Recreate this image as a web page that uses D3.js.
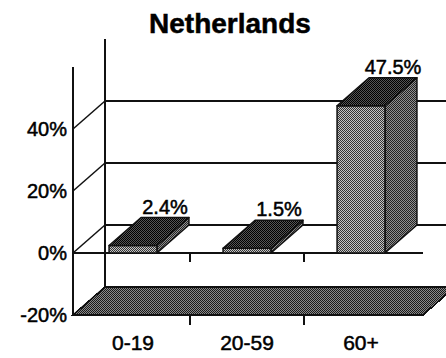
<!DOCTYPE html>
<html>
<head>
<meta charset="utf-8">
<script src="https://cdn.jsdelivr.net/npm/d3@7"></script>
<style>
  html, body { margin: 0; padding: 0; background: #fff; }
  svg { display: block; }
  text { font-family: "Liberation Sans", Arial, Helvetica, sans-serif; fill: #000; stroke: #000; stroke-width: 0.5px; }
</style>
</head>
<body>
<svg id="chart" width="446" height="358"></svg>
<script>
// Population change by age group
const title = "Netherlands";
const categories = ["0-19", "20-59", "60+"];
const values = [2.4, 1.5, 47.5];
const valueLabels = ["2.4%", "1.5%", "47.5%"];
const yTicks = [-20, 0, 20, 40];
const yTickLabels = ["-20%", "0%", "20%", "40%"];
const yDomain = [-20, 60];

const svg = d3.select("#chart");

// 3D box geometry
const front = { left: 73, right: 423 };
const depth = { dx: 32, dy: -28 };

const y = d3.scaleLinear().domain(yDomain).range([315, 67]);
const x = d3.scaleBand().domain(categories)
  .range([76, 418]).paddingInner(0.58).paddingOuter(0.29);

// Halftone-like fills
const defs = svg.append("defs");
function halftone(id, bg, dot) {
  const p = defs.append("pattern").attr("id", id)
    .attr("width", 2).attr("height", 2).attr("patternUnits", "userSpaceOnUse");
  p.append("rect").attr("width", 2).attr("height", 2).attr("fill", bg);
  p.append("rect").attr("x", 0).attr("y", 0).attr("width", 1).attr("height", 1).attr("fill", dot);
  p.append("rect").attr("x", 1).attr("y", 1).attr("width", 1).attr("height", 1).attr("fill", dot);
}
halftone("floorFill", "#8a8a8a", "#1a1a1a");
halftone("frontFill", "#c4c4c4", "#333");
halftone("sideFill", "#909090", "#222");
halftone("topFill", "#555", "#000");

const line = d3.line();
const g = svg.append("g").attr("shape-rendering", "crispEdges");

// Floor at the bottom of the value axis
const yf = y(yDomain[0]);
g.append("path")
  .attr("d", line([[front.left, yf], [front.right, yf],
                   [front.right + depth.dx, yf + depth.dy], [front.left + depth.dx, yf + depth.dy]]) + "Z")
  .attr("fill", "url(#floorFill)").attr("stroke", "#111").attr("stroke-width", 1.5);

// Back wall gridlines
yTicks.filter(v => v > yDomain[0]).forEach(v => {
  g.append("line")
    .attr("x1", front.left + depth.dx).attr("x2", front.right + depth.dx + 10)
    .attr("y1", y(v) + depth.dy).attr("y2", y(v) + depth.dy)
    .attr("stroke", "#111").attr("stroke-width", 1.5);
});

// Back wall left edge
g.append("line")
  .attr("x1", front.left + depth.dx).attr("x2", front.left + depth.dx)
  .attr("y1", y(yDomain[1]) + depth.dy).attr("y2", yf + depth.dy)
  .attr("stroke", "#111").attr("stroke-width", 2);

// Side wall diagonals
yTicks.forEach(v => {
  svg.append("line")
    .attr("x1", front.left).attr("y1", y(v))
    .attr("x2", front.left + depth.dx).attr("y2", y(v) + depth.dy)
    .attr("stroke", "#111").attr("stroke-width", 1.5);
});

// Front value axis
g.append("line")
  .attr("x1", front.left).attr("x2", front.left)
  .attr("y1", y(yDomain[1])).attr("y2", yf)
  .attr("stroke", "#111").attr("stroke-width", 1.5);

// Zero baseline at the front
g.append("line")
  .attr("x1", front.left).attr("x2", front.right)
  .attr("y1", y(0)).attr("y2", y(0))
  .attr("stroke", "#111").attr("stroke-width", 2);

// Category separators
const step = x.step();
categories.slice(1).forEach(c => {
  const bx = x(c) - (step * x.paddingInner()) / 2;
  [[y(0), y(0) + 9], [yf, yf + 10]].forEach(([a, b]) => {
    g.append("line").attr("x1", bx).attr("x2", bx).attr("y1", a).attr("y2", b)
      .attr("stroke", "#111").attr("stroke-width", 2);
  });
});

// Bars
const bars = svg.append("g").attr("stroke", "#111").attr("stroke-width", 1.5)
  .attr("stroke-linejoin", "round");
categories.forEach((c, i) => {
  const x0 = x(c), x1 = x(c) + x.bandwidth();
  const yt = y(values[i]), yb = y(0);
  const { dx, dy } = depth;
  bars.append("path")
    .attr("d", line([[x1, yt], [x1 + dx, yt + dy], [x1 + dx, yb + dy], [x1, yb]]) + "Z")
    .attr("fill", "url(#sideFill)");
  bars.append("rect")
    .attr("x", x0).attr("y", yt).attr("width", x1 - x0).attr("height", yb - yt)
    .attr("fill", "url(#frontFill)");
  bars.append("path")
    .attr("d", line([[x0, yt], [x0 + dx, yt + dy], [x1 + dx, yt + dy], [x1, yt]]) + "Z")
    .attr("fill", "url(#topFill)");
});

// Value labels
categories.forEach((c, i) => {
  svg.append("text")
    .attr("x", x(c) + x.bandwidth() / 2 + depth.dx)
    .attr("y", y(values[i]) + depth.dy - 4)
    .attr("text-anchor", "middle")
    .attr("font-size", 20)
    .text(valueLabels[i]);
});

// Value axis labels
yTicks.forEach((v, i) => {
  svg.append("text")
    .attr("x", front.left - 6).attr("y", y(v) + 7)
    .attr("text-anchor", "end")
    .attr("font-size", 20)
    .text(yTickLabels[i]);
});

// Category labels
categories.forEach(c => {
  svg.append("text")
    .attr("x", x(c) + x.bandwidth() / 2).attr("y", 350)
    .attr("text-anchor", "middle")
    .attr("font-size", 21)
    .text(c);
});

// Title
svg.append("text")
  .attr("x", 230).attr("y", 33)
  .attr("text-anchor", "middle")
  .attr("font-size", 28).attr("font-weight", "bold")
  .text(title);
</script>
</body>
</html>
